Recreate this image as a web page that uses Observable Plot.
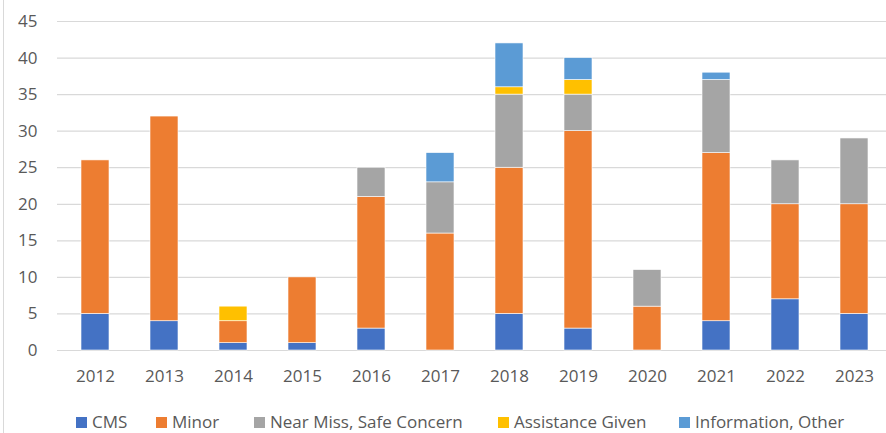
<!DOCTYPE html>
<html>
<head>
<meta charset="utf-8">
<script src="https://cdn.jsdelivr.net/npm/d3@7"></script>
<script src="https://cdn.jsdelivr.net/npm/@observablehq/plot@0.6"></script>
<style>
  html, body { margin: 0; padding: 0; background: #fff; }
  #wrap { position: relative; width: 886px; height: 433px; overflow: hidden; font-family: "Open Sans", "Liberation Sans", Arial, sans-serif; }
  #border { position: absolute; left: 3px; top: 0; width: 1px; height: 433px; background: #d9d9d9; }
  #legend { position: absolute; top: 411px; left: 0; width: 886px; height: 22px; }
  .item { position: absolute; top: 0; display: flex; align-items: center; font-size: 17px; line-height: 22px; color: #595959; white-space: nowrap; }
  .sw { width: 11px; height: 11px; margin-right: 5px; }
</style>
</head>
<body>
<div id="wrap"><div id="border"></div><div id="chart"></div><div id="legend"></div></div>
<script>
const years = ["2012","2013","2014","2015","2016","2017","2018","2019","2020","2021","2022","2023"];
const seriesNames = ["CMS","Minor","Near Miss, Safe Concern","Assistance Given","Information, Other"];
const colors = ["#4472C4","#ED7D31","#A5A5A5","#FFC000","#5B9BD5"];
const cms        = [5, 4, 1, 1, 3, 0, 5, 3, 0, 4, 7, 5];
const minor      = [21, 28, 3, 9, 18, 16, 20, 27, 6, 23, 13, 15];
const nearMiss   = [0, 0, 0, 0, 4, 7, 10, 5, 5, 10, 6, 9];
const assistance = [0, 0, 2, 0, 0, 0, 1, 2, 0, 0, 0, 0];
const info       = [0, 0, 0, 0, 0, 4, 6, 3, 0, 1, 0, 0];
const yTicks = [0, 5, 10, 15, 20, 25, 30, 35, 40, 45];
const legendLefts = [76, 156, 254, 498, 679];

const seriesValues = [cms, minor, nearMiss, assistance, info];
const data = [];
seriesNames.forEach((s, i) => {
  years.forEach((yr, j) => {
    const v = seriesValues[i][j];
    if (v > 0) data.push({year: yr, series: s, value: v});
  });
});

const chart = Plot.plot({
  width: 886,
  height: 395,
  marginLeft: 57,
  marginRight: 0,
  marginTop: 21,
  marginBottom: 45,
  style: {fontFamily: "'Open Sans', 'Liberation Sans', Arial, sans-serif", fontSize: "17px", color: "#595959", background: "transparent"},
  x: {domain: years, range: [57, 892], paddingInner: 0.6, paddingOuter: 0.3, label: null},
  y: {domain: [0, 45], ticks: yTicks, label: null},
  color: {domain: seriesNames, range: colors},
  marks: [
    Plot.ruleY(yTicks, {stroke: "#d9d9d9", strokeWidth: 1.2}),
    Plot.barY(data, Plot.stackY({
      x: "year", y: "value", fill: "series",
      order: seriesNames, stroke: "#fff", strokeWidth: 0.6
    })),
    Plot.axisY({ticks: yTicks, tickSize: 0, tickPadding: 20, fill: "#595959", fontSize: 17, label: null}),
    Plot.axisX({tickSize: 0, tickPadding: 19, fill: "#595959", fontSize: 17, label: null})
  ]
});
document.getElementById("chart").appendChild(chart);

const legend = document.getElementById("legend");
seriesNames.forEach((s, i) => {
  const it = document.createElement("div");
  it.className = "item";
  it.style.left = legendLefts[i] + "px";
  const sw = document.createElement("span");
  sw.className = "sw";
  sw.style.background = colors[i];
  const t = document.createElement("span");
  t.textContent = s;
  it.appendChild(sw); it.appendChild(t);
  legend.appendChild(it);
});
</script>
</body>
</html>
